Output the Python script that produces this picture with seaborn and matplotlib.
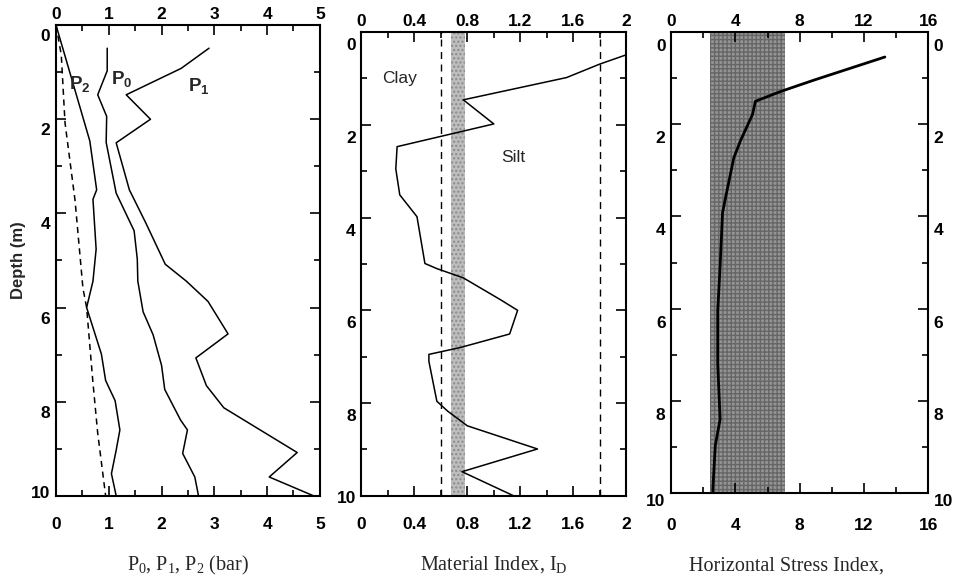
import numpy as np
import pandas as pd
import matplotlib.pyplot as plt
from matplotlib.ticker import MultipleLocator
from matplotlib.transforms import ScaledTranslation
import seaborn as sns

# depth profiles
p0_depth = [0.49, 0.97, 1.48, 1.94, 2.49, 3.57, 4.37, 4.97, 5.44, 6.09, 6.58, 7.23, 7.74, 8.39, 8.6, 9.1, 9.6, 10.0]
p0_val = [0.97, 0.97, 0.79, 0.96, 0.95, 1.14, 1.48, 1.54, 1.55, 1.65, 1.84, 2.0, 2.06, 2.36, 2.49, 2.4, 2.63, 2.7]

p1_depth = [0.49, 0.92, 1.48, 2.0, 2.5, 3.5, 4.2, 5.08, 5.44, 5.87, 6.56, 7.07, 7.66, 8.13, 9.08, 9.6, 10.0]
p1_val = [2.9, 2.37, 1.33, 1.79, 1.14, 1.39, 1.7, 2.07, 2.47, 2.88, 3.26, 2.65, 2.85, 3.18, 4.57, 4.04, 4.88]

p2_depth = [0.0, 2.46, 3.5, 3.7, 4.76, 5.44, 6.0, 6.99, 7.55, 7.98, 8.6, 9.03, 9.53, 10.0]
p2_val = [0.0, 0.64, 0.77, 0.7, 0.76, 0.7, 0.58, 0.86, 0.94, 1.12, 1.21, 1.14, 1.05, 1.14]

u0_depth = [0.0, 0.64, 2.07, 3.72, 5.59, 6.0, 7.6, 8.67, 10.0]
u0_val = [0.0, 0.1, 0.17, 0.36, 0.51, 0.58, 0.7, 0.79, 0.94]

id_depth = [0.3, 0.49, 0.69, 0.98, 1.46, 1.98, 2.47, 2.95, 3.51, 3.98, 4.99, 5.1, 5.3, 5.77, 6.0, 6.51, 6.8, 6.95, 7.1, 7.96, 8.17, 8.49, 8.99, 9.48, 10.0]
id_val = [2.1, 2.0, 1.8, 1.55, 0.77, 1.0, 0.27, 0.26, 0.29, 0.42, 0.48, 0.57, 0.77, 1.05, 1.18, 1.12, 0.75, 0.51, 0.51, 0.57, 0.65, 0.8, 1.33, 0.76, 1.15]

kd_depth = [0.54, 1.04, 1.29, 1.5, 1.79, 2.37, 2.73, 3.57, 3.92, 5.07, 6.05, 7.2, 8.4, 8.97, 9.9, 10.0]
kd_val = [13.3, 8.9, 6.8, 5.25, 5.06, 4.3, 3.9, 3.4, 3.2, 3.05, 2.9, 2.9, 3.05, 2.75, 2.6, 2.6]

id_limits = [0.6, 1.8]
id_band = [0.68, 0.78]
kd_band = [2.4, 7.1]

sns.set_style("ticks")
plt.rcParams['font.family'] = ['Liberation Sans', 'DejaVu Sans']
plt.rcParams['mathtext.fontset'] = 'custom'
plt.rcParams['mathtext.rm'] = 'Liberation Serif'
plt.rcParams['mathtext.it'] = 'Liberation Serif:italic'
plt.rcParams['mathtext.bf'] = 'Liberation Sans:bold'

fig = plt.figure(figsize=(9.56, 5.84), dpi=100)
ax1 = fig.add_axes([0.0586, 0.151, 0.276, 0.806])
ax2 = fig.add_axes([0.378, 0.151, 0.277, 0.794])
ax3 = fig.add_axes([0.702, 0.156, 0.269, 0.789])

serif = ['Liberation Serif', 'DejaVu Serif']


def style_axis(ax, xmax, major, minor, right_labels=False):
    ax.set_xlim(0, xmax)
    ax.set_ylim(10, 0)
    ax.xaxis.set_major_locator(MultipleLocator(major))
    ax.xaxis.set_minor_locator(MultipleLocator(minor))
    ax.yaxis.set_major_locator(MultipleLocator(2))
    ax.yaxis.set_minor_locator(MultipleLocator(1))
    ax.xaxis.set_major_formatter(lambda v, p: f'{v:g}')
    ax.tick_params(which='both', direction='in', top=True, right=True,
                   labeltop=True, labelbottom=True, labelright=right_labels,
                   width=1.2, colors='black')
    ax.tick_params(which='major', length=7, labelsize=12.5)
    ax.tick_params(which='minor', length=4)
    ax.tick_params(axis='x', which='major', pad=2)
    ax.tick_params(axis='y', which='major', pad=4)
    for s in ax.spines.values():
        s.set_linewidth(1.5)
        s.set_color('black')
    ax.set_ylabel('')
    ax.set_xlabel('')


# panel 1: P0, P1, P2
sns.lineplot(x=p0_val, y=p0_depth, sort=False, estimator=None, color='black', lw=1.1, ax=ax1)
sns.lineplot(x=p1_val, y=p1_depth, sort=False, estimator=None, color='black', lw=1.1, ax=ax1)
sns.lineplot(x=p2_val, y=p2_depth, sort=False, estimator=None, color='black', lw=1.1, ax=ax1)
sns.lineplot(x=u0_val, y=u0_depth, sort=False, estimator=None, color='black', lw=1.1, ax=ax1,
             linestyle=(0, (4, 3)))
style_axis(ax1, 5, 1, 0.5)
ax1.text(0.45, 1.25, r'$\mathbf{P_2}$', fontsize=13.5, ha='center', va='center')
ax1.text(1.25, 1.14, r'$\mathbf{P_0}$', fontsize=13.5, ha='center', va='center')
ax1.text(2.7, 1.3, r'$\mathbf{P_1}$', fontsize=13.5, ha='center', va='center')
ax1.set_xlabel(r'P$_0$, P$_1$, P$_2$ (bar)', family=serif, fontsize=14.5, labelpad=16)
ax1.set_ylabel('Depth (m)', fontweight='bold', fontsize=12, labelpad=4)

# panel 2: material index
ax2.axvspan(id_band[0], id_band[1], color='#bdbdbd', lw=0, hatch='....', ec='#8a8a8a', zorder=0)
for v in id_limits:
    ax2.axvline(v, color='black', lw=1, linestyle=(0, (5, 4)))
sns.lineplot(x=id_val, y=id_depth, sort=False, estimator=None, color='black', lw=1.1, ax=ax2)
style_axis(ax2, 2, 0.4, 0.2)
ax2.text(0.29, 1.0, 'Clay', fontsize=12.5, ha='center', va='center')
ax2.text(1.15, 2.7, 'Silt', fontsize=12.5, ha='center', va='center')
ax2.set_xlabel(r'Material Index, I$_\mathrm{D}$', family=serif, fontsize=14.5, labelpad=16)

# panel 3: horizontal stress index
ax3.axvspan(kd_band[0], kd_band[1], color='#959595', lw=0, hatch='++++', ec='#666666', zorder=0)
sns.lineplot(x=kd_val, y=kd_depth, sort=False, estimator=None, color='black', lw=2, ax=ax3)
style_axis(ax3, 16, 4, 2, right_labels=True)
ax3.set_xlabel('Horizontal Stress Index,', family=serif, fontsize=14.5)
ax3.xaxis.set_label_coords(0.45, -0.138)

# bold tick labels; the scan has depth labels sitting a little low and the
# bottom numbers well below the axis
fig.canvas.draw()


def shift(lab, px):
    lab.set_transform(lab.get_transform() + ScaledTranslation(0, -px / 100, fig.dpi_scale_trans))


for ax, ydown, last, xdown in [(ax1, 10, -4, 18), (ax2, 12, 1, 18), (ax3, 13, 7, 22)]:
    for tick in ax.yaxis.get_major_ticks():
        d = last if abs(tick.get_loc() - 10) < 1e-6 else ydown
        for lab in (tick.label1, tick.label2):
            lab.set_fontweight('bold')
            shift(lab, d)
    for tick in ax.xaxis.get_major_ticks():
        tick.label1.set_fontweight('bold')
        tick.label2.set_fontweight('bold')
        shift(tick.label1, xdown)

fig.savefig('out.png', dpi=100)
